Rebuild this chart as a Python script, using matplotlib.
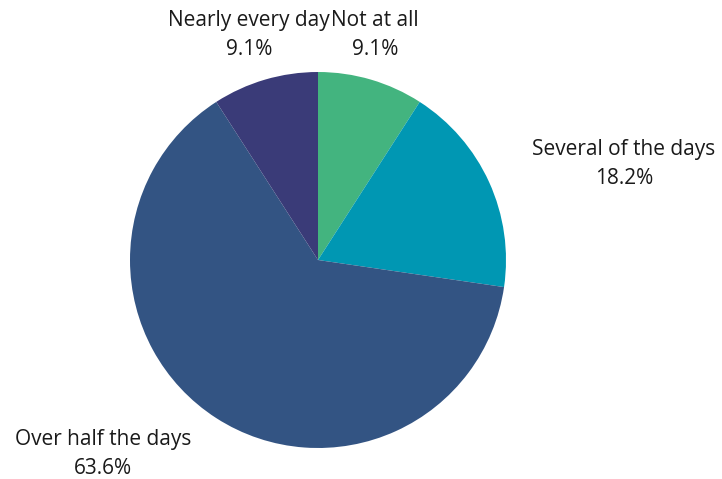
import matplotlib.pyplot as plt

categories = ["Not at all", "Several of the days", "Over half the days", "Nearly every day"]
percentages = [9.1, 18.2, 63.6, 9.1]
colors = ["#43b47f", "#0097b3", "#335483", "#3a3b78"]

# label anchor points (pixel coordinates, y measured from top)
label_pos = [(375, 35), (624, 164), (103, 454), (249, 35)]

W, H = 722, 479
fig = plt.figure(figsize=(W / 100, H / 100), dpi=100)
ax = fig.add_axes([0, 0, 1, 1])

ax.pie(percentages, colors=colors, startangle=90, counterclock=False,
       radius=188, center=(318, H - 260), frame=True,
       wedgeprops=dict(linewidth=0))
ax.set_xlim(0, W)
ax.set_ylim(0, H)
ax.set_aspect("equal")
ax.axis("off")

for cat, pct, (x, y) in zip(categories, percentages, label_pos):
    ax.text(x, H - y, f"{cat}\n{pct:.1f}%", ha="center", va="center",
            fontsize=15, family=["Open Sans", "DejaVu Sans"], color="#1a1a1a",
            linespacing=1.5)

fig.savefig("out.png", dpi=100)
